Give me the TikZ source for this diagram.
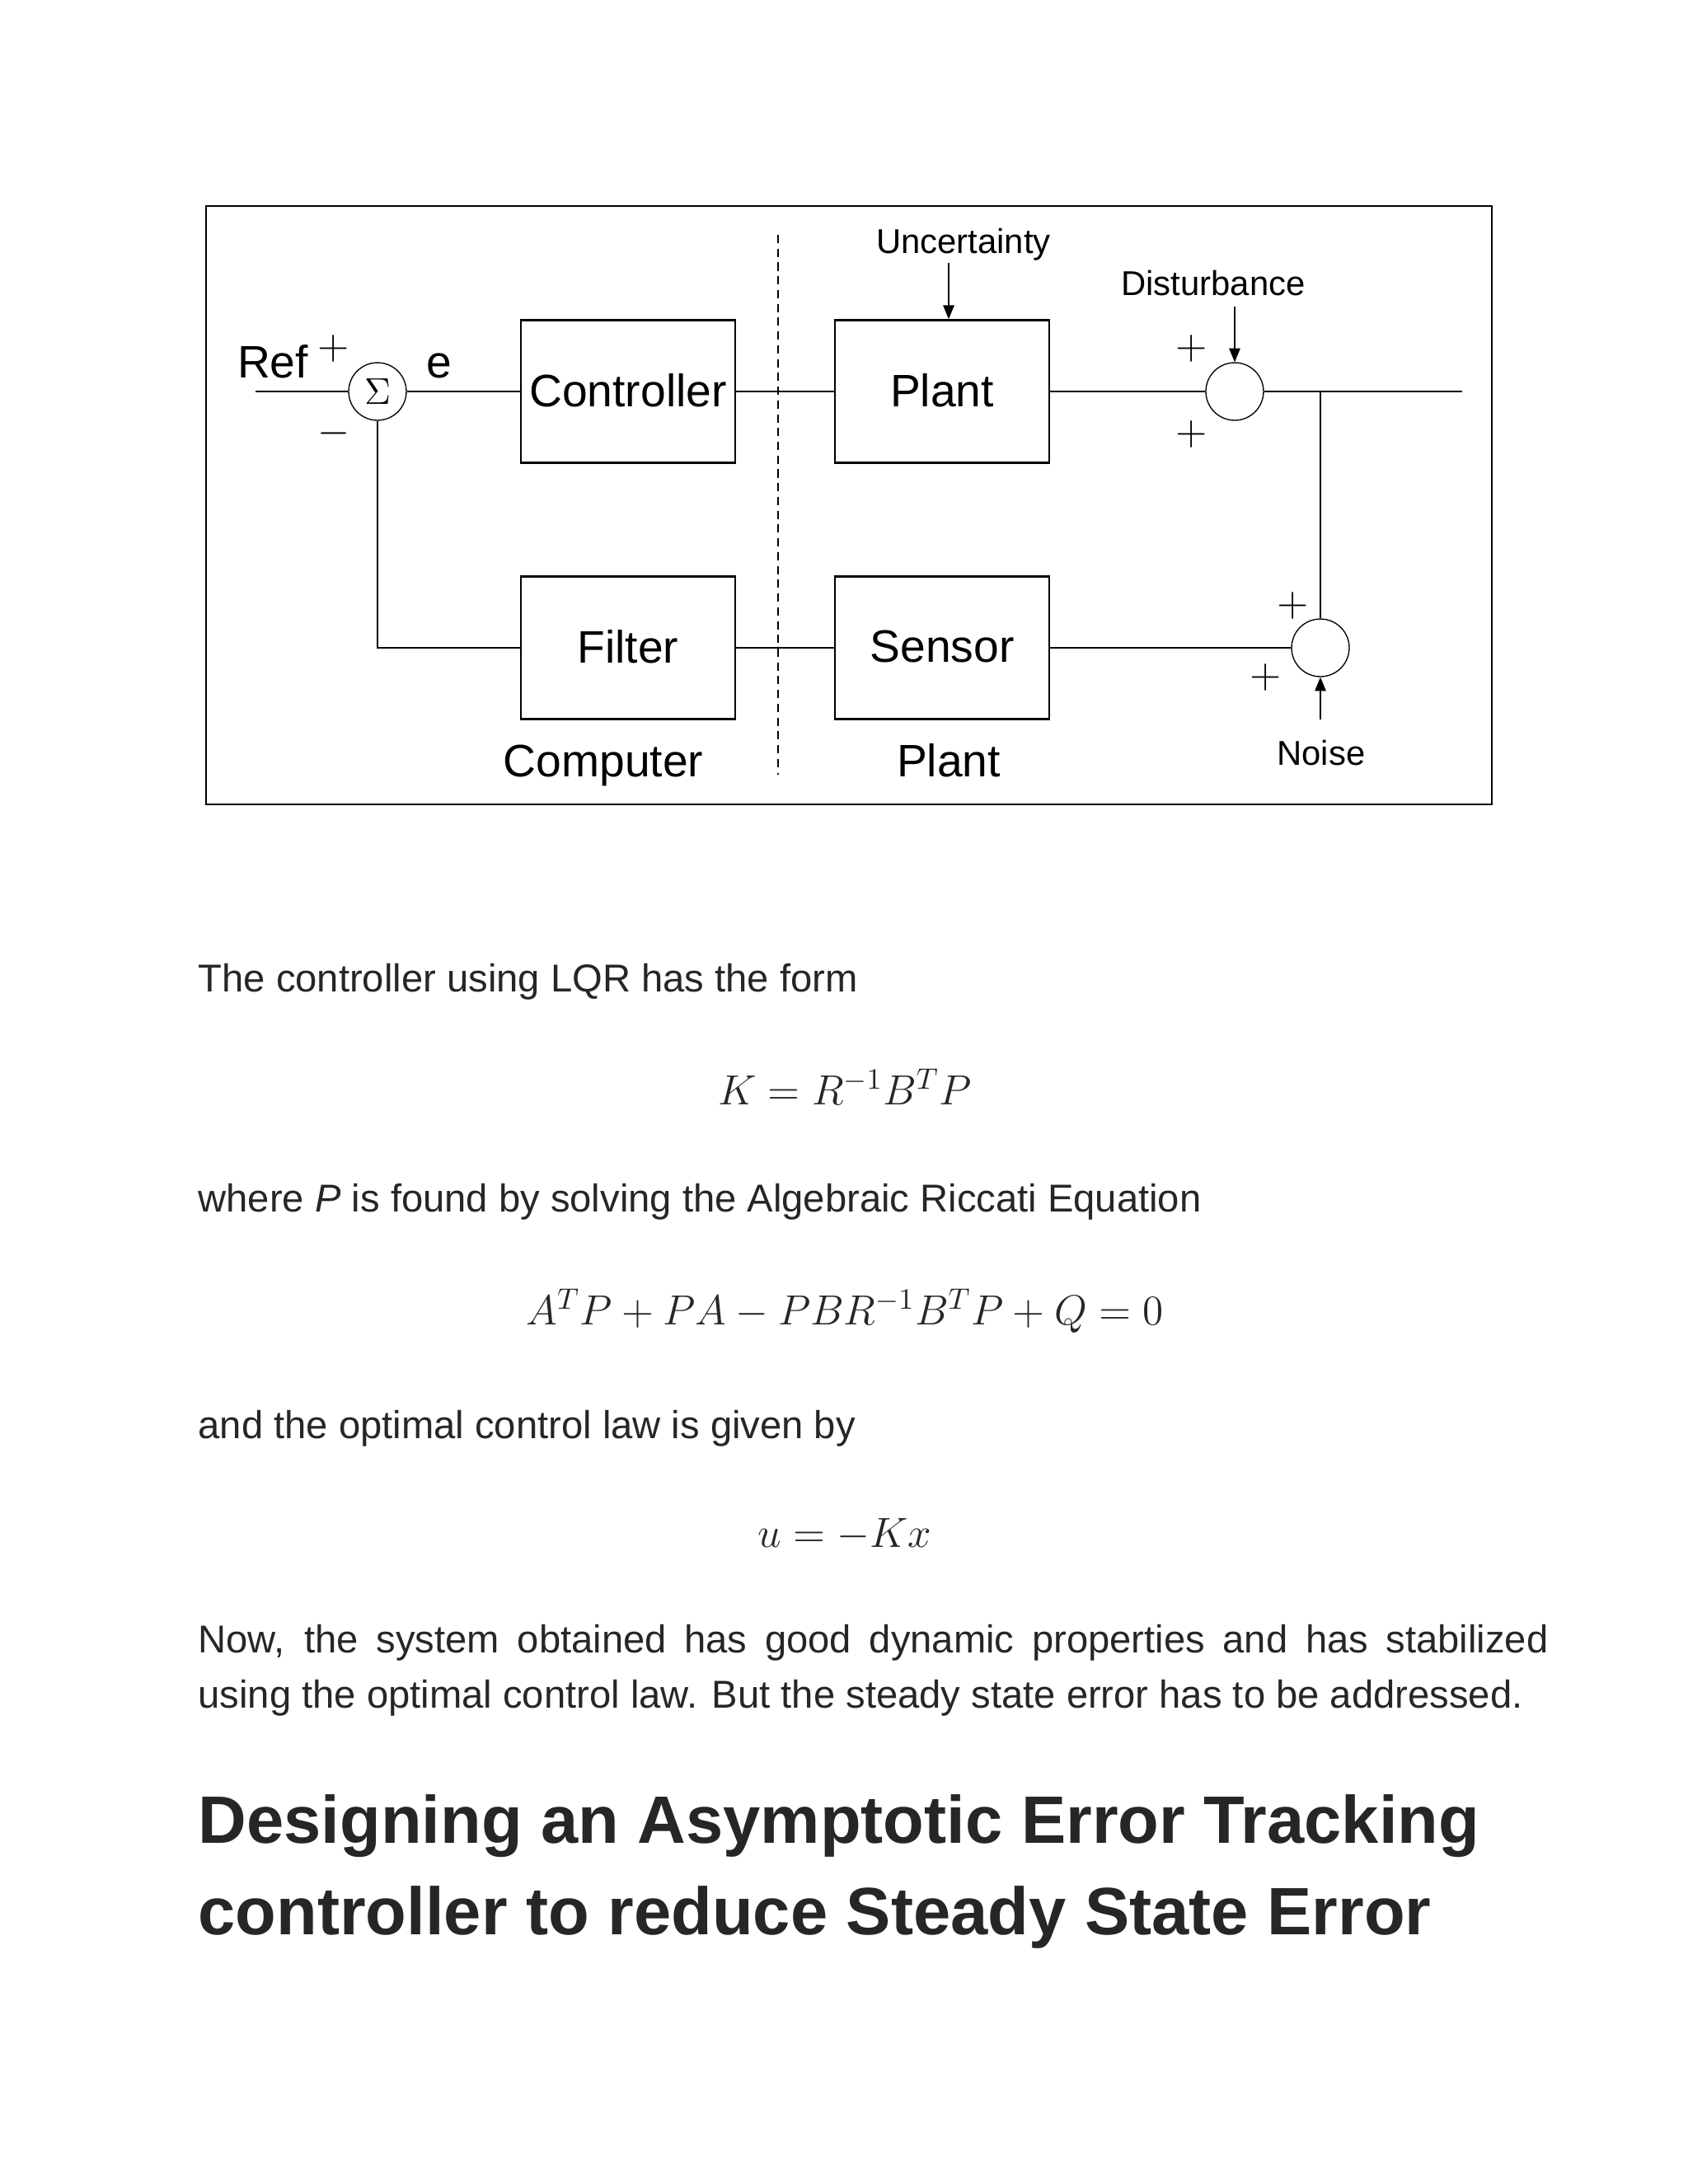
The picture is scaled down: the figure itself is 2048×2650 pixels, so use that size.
\RequirePackage{fix-cm}
\documentclass[tikz,border=0pt]{standalone}
\usepackage{fontspec}
\setmainfont{Liberation Sans}
\usetikzlibrary{positioning,arrows.meta,shapes.geometric}
\definecolor{bodygray}{HTML}{262626}

\begin{document}
\begin{tikzpicture}[x=0.298828pt, y=-0.298828pt,
    blk/.style={draw, line width=0.8pt, minimum width=77.7pt, minimum height=51.7pt, inner sep=0pt, font=\fontsize{16.5}{18}\selectfont},
    sumpt/.style={draw, circle, line width=0.4pt, minimum size=20.9pt, inner sep=0pt},
    sig/.style={font=\fontsize{15}{15}\selectfont, inner sep=0pt},
    lbl/.style={font=\fontsize{12.5}{14}\selectfont, anchor=base, inner sep=0pt},
    big/.style={font=\fontsize{16.5}{18}\selectfont, anchor=base, inner sep=0pt},
    wire/.style={line width=0.7pt},
    arr/.style={line width=0.5pt, -{Triangle[length=5pt,width=4pt]}},
    body/.style={font=\fontsize{14.1}{19.7}\selectfont, text=bodygray, anchor=base west, inner sep=0pt},
    eqn/.style={font=\fontsize{15.3}{18}\selectfont, text=black!85, anchor=base, inner sep=0pt},
    head/.style={font=\fontsize{24.3}{32}\selectfont\bfseries, text=bodygray, anchor=base west, inner sep=0pt}]
    \useasboundingbox (0,0) rectangle (2048,2650);
    \draw[line width=0.7pt] (250,250) rectangle (1810,976);
    \draw[line width=0.5pt, dash pattern=on 3pt off 2pt] (944,285) -- (944,940);
    \foreach \n/\x/\y/\t in {ctrl/762/475/Controller, plant/1143/475/Plant, filter/762/786/Filter, sensor/1143/786/Sensor} {
        \node[blk] (\n) at (\x,\y) {\raisebox{1pt}{\t}};
    }
    \node[sumpt] (sum) at (458,475) {\fontsize{13.5}{13.5}\selectfont$\Sigma$};
    \node[sumpt] (sumd) at (1498,475) {};
    \node[sumpt] (sumn) at (1602,786) {};
    \foreach \n/\x/\y/\s in {ra/405/423/+, rb/405/526/-, da/1446/423/+, db/1446/527/+, na/1569/735/+, nb/1536/822/+} {
        \node[sig] (\n) at (\x,\y) {$\s$};
    }
    \coordinate (refin) at (310,475);
    \coordinate (tap) at (1602,475);
    \coordinate (out) at (1774,475);
    \draw[wire] (refin) -- (sum) -- (ctrl) -- (plant) -- (sumd) -- (out);
    \draw[wire] (tap) -- (sumn);
    \draw[wire] (sensor) -- (sumn);
    \draw[wire] (filter) -- (sensor);
    \draw[wire] (sum) |- (filter);
    \node[big] (reflbl) at (331,458) {Ref};
    \node[big] (elbl) at (533,458) {e};
    \node[lbl] (unc) at (1169,307) {Uncertainty};
    \node[lbl] (dist) at (1472,358) {Disturbance};
    \node[lbl] (noise) at (1603,928) {Noise};
    \node[big] (comp) at (732,942) {Computer};
    \node[big] (plantlbl) at (1151,942) {Plant};
    \coordinate (uncin) at (1151,319);
    \coordinate (distin) at (1498,372);
    \coordinate (noisein) at (1602,873);
    \draw[arr] (uncin) -- (uncin |- plant.north);
    \draw[arr] (distin) -- (sumd);
    \draw[arr] (noisein) -- (sumn);

    \node[body] (t1) at (240,1203) {The controller using LQR has the form};
    \node[eqn] (eq1) at (1025,1340) {$K=R^{-1}B^TP$};
    \node[body] (t2) at (240,1470) {where \textit{P} is found by solving the Algebraic Riccati Equation};
    \node[eqn] (eq2) at (1025,1607) {$A^TP+PA-PBR^{-1}B^TP+Q=0$};
    \node[body] (t3) at (240,1745) {and the optimal control law is given by};
    \node[eqn] (eq3) at (1025,1877) {$u=-Kx$};
    \node[body] (t4) at (240,2005) {\makebox[489.5pt][s]{Now, the system obtained has good dynamic properties and has stabilized}};
    \node[body] (t5) at (240,2072) {using the optimal control law. But the steady state error has to be addressed.};
    \node[head] (h1) at (240,2236) {Designing an Asymptotic Error Tracking};
    \node[head] (h2) at (240,2347) {controller to reduce Steady State Error};
\end{tikzpicture}
\end{document}
